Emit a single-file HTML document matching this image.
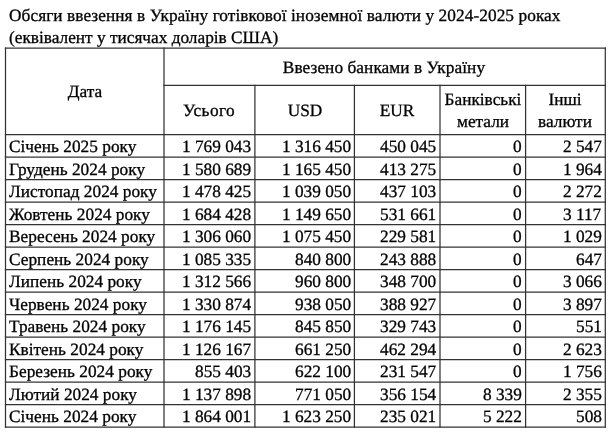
<!DOCTYPE html><html><head><meta charset="utf-8"><style>
html,body{margin:0;padding:0;background:#fff;}
body{width:610px;height:443px;position:relative;overflow:hidden;font-family:"Liberation Serif",serif;font-size:17.30px;color:#000;}
.t{position:absolute;white-space:pre;line-height:20px;height:20px;}
.r{text-align:right;}
.c{text-align:center;}
.t{will-change:transform;}
.t{-webkit-text-stroke:0.30px #000;}
body{text-rendering:geometricPrecision;}
svg{position:absolute;left:0;top:0;}
</style></head><body>
<div class="t " style="top:5.66px;left:8.80px;letter-spacing:0.070px;">Обсяги ввезення в Україну готівкової іноземної валюти у 2024-2025 роках</div>
<div class="t " style="top:27.66px;left:8.80px;">(еквівалент у тисячах доларів США)</div>
<svg width="610" height="443" viewBox="0 0 610 443" shape-rendering="auto"><line x1="5.50" y1="48.10" x2="605.30" y2="48.10" stroke="#333" stroke-width="1.25" stroke-linecap="square"/><line x1="164.00" y1="85.30" x2="605.30" y2="85.30" stroke="#333" stroke-width="1.25" stroke-linecap="square"/><line x1="5.50" y1="134.50" x2="605.30" y2="134.50" stroke="#333" stroke-width="1.25" stroke-linecap="square"/><line x1="5.50" y1="157.00" x2="605.30" y2="157.00" stroke="#333" stroke-width="1.25" stroke-linecap="square"/><line x1="5.50" y1="179.50" x2="605.30" y2="179.50" stroke="#333" stroke-width="1.25" stroke-linecap="square"/><line x1="5.50" y1="202.00" x2="605.30" y2="202.00" stroke="#333" stroke-width="1.25" stroke-linecap="square"/><line x1="5.50" y1="224.50" x2="605.30" y2="224.50" stroke="#333" stroke-width="1.25" stroke-linecap="square"/><line x1="5.50" y1="247.00" x2="605.30" y2="247.00" stroke="#333" stroke-width="1.25" stroke-linecap="square"/><line x1="5.50" y1="269.50" x2="605.30" y2="269.50" stroke="#333" stroke-width="1.25" stroke-linecap="square"/><line x1="5.50" y1="292.00" x2="605.30" y2="292.00" stroke="#333" stroke-width="1.25" stroke-linecap="square"/><line x1="5.50" y1="314.50" x2="605.30" y2="314.50" stroke="#333" stroke-width="1.25" stroke-linecap="square"/><line x1="5.50" y1="337.00" x2="605.30" y2="337.00" stroke="#333" stroke-width="1.25" stroke-linecap="square"/><line x1="5.50" y1="359.50" x2="605.30" y2="359.50" stroke="#333" stroke-width="1.25" stroke-linecap="square"/><line x1="5.50" y1="382.00" x2="605.30" y2="382.00" stroke="#333" stroke-width="1.25" stroke-linecap="square"/><line x1="5.50" y1="404.50" x2="605.30" y2="404.50" stroke="#333" stroke-width="1.25" stroke-linecap="square"/><line x1="5.50" y1="427.00" x2="605.30" y2="427.00" stroke="#333" stroke-width="1.25" stroke-linecap="square"/><line x1="5.50" y1="48.10" x2="5.50" y2="427.00" stroke="#333" stroke-width="1.25" stroke-linecap="square"/><line x1="605.30" y1="48.10" x2="605.30" y2="427.00" stroke="#333" stroke-width="1.25" stroke-linecap="square"/><line x1="164.00" y1="48.10" x2="164.00" y2="427.00" stroke="#333" stroke-width="1.25" stroke-linecap="square"/><line x1="254.90" y1="85.30" x2="254.90" y2="427.00" stroke="#333" stroke-width="1.25" stroke-linecap="square"/><line x1="354.40" y1="85.30" x2="354.40" y2="427.00" stroke="#333" stroke-width="1.25" stroke-linecap="square"/><line x1="440.00" y1="85.30" x2="440.00" y2="427.00" stroke="#333" stroke-width="1.25" stroke-linecap="square"/><line x1="525.60" y1="85.30" x2="525.60" y2="427.00" stroke="#333" stroke-width="1.25" stroke-linecap="square"/></svg>
<div class="t c" style="top:81.96px;left:-65.25px;width:300.00px;">Дата</div>
<div class="t c" style="top:58.06px;left:234.15px;width:300.00px;letter-spacing:0.060px;">Ввезено банками в Україну</div>
<div class="t c" style="top:100.86px;left:58.65px;width:300.00px;letter-spacing:0.400px;">Усього</div>
<div class="t c" style="top:100.86px;left:154.65px;width:300.00px;">USD</div>
<div class="t c" style="top:100.86px;left:247.20px;width:300.00px;">EUR</div>
<div class="t c" style="top:89.86px;left:332.80px;width:300.00px;">Банківські</div>
<div class="t c" style="top:112.06px;left:332.80px;width:300.00px;">метали</div>
<div class="t c" style="top:89.86px;left:415.45px;width:300.00px;">Інші</div>
<div class="t c" style="top:112.06px;left:415.45px;width:300.00px;">валюти</div>
<div class="t " style="top:137.06px;left:8.50px;letter-spacing:0.020px;">Січень 2025 року</div>
<div class="t r" style="top:137.06px;right:358.80px;">1 769 043</div>
<div class="t r" style="top:137.06px;right:259.20px;">1 316 450</div>
<div class="t r" style="top:137.06px;right:173.60px;">450 045</div>
<div class="t r" style="top:137.06px;right:88.00px;">0</div>
<div class="t r" style="top:137.06px;right:8.30px;">2 547</div>
<div class="t " style="top:159.56px;left:8.50px;letter-spacing:0.020px;">Грудень 2024 року</div>
<div class="t r" style="top:159.56px;right:358.80px;">1 580 689</div>
<div class="t r" style="top:159.56px;right:259.20px;">1 165 450</div>
<div class="t r" style="top:159.56px;right:173.60px;">413 275</div>
<div class="t r" style="top:159.56px;right:88.00px;">0</div>
<div class="t r" style="top:159.56px;right:8.30px;">1 964</div>
<div class="t " style="top:182.06px;left:8.50px;letter-spacing:0.020px;">Листопад 2024 року</div>
<div class="t r" style="top:182.06px;right:358.80px;">1 478 425</div>
<div class="t r" style="top:182.06px;right:259.20px;">1 039 050</div>
<div class="t r" style="top:182.06px;right:173.60px;">437 103</div>
<div class="t r" style="top:182.06px;right:88.00px;">0</div>
<div class="t r" style="top:182.06px;right:8.30px;">2 272</div>
<div class="t " style="top:204.56px;left:8.50px;letter-spacing:0.020px;">Жовтень 2024 року</div>
<div class="t r" style="top:204.56px;right:358.80px;">1 684 428</div>
<div class="t r" style="top:204.56px;right:259.20px;">1 149 650</div>
<div class="t r" style="top:204.56px;right:173.60px;">531 661</div>
<div class="t r" style="top:204.56px;right:88.00px;">0</div>
<div class="t r" style="top:204.56px;right:8.30px;">3 117</div>
<div class="t " style="top:227.06px;left:8.50px;letter-spacing:0.020px;">Вересень 2024 року</div>
<div class="t r" style="top:227.06px;right:358.80px;">1 306 060</div>
<div class="t r" style="top:227.06px;right:259.20px;">1 075 450</div>
<div class="t r" style="top:227.06px;right:173.60px;">229 581</div>
<div class="t r" style="top:227.06px;right:88.00px;">0</div>
<div class="t r" style="top:227.06px;right:8.30px;">1 029</div>
<div class="t " style="top:249.56px;left:8.50px;letter-spacing:0.020px;">Серпень 2024 року</div>
<div class="t r" style="top:249.56px;right:358.80px;">1 085 335</div>
<div class="t r" style="top:249.56px;right:259.20px;">840 800</div>
<div class="t r" style="top:249.56px;right:173.60px;">243 888</div>
<div class="t r" style="top:249.56px;right:88.00px;">0</div>
<div class="t r" style="top:249.56px;right:8.30px;">647</div>
<div class="t " style="top:272.06px;left:8.50px;letter-spacing:0.020px;">Липень 2024 року</div>
<div class="t r" style="top:272.06px;right:358.80px;">1 312 566</div>
<div class="t r" style="top:272.06px;right:259.20px;">960 800</div>
<div class="t r" style="top:272.06px;right:173.60px;">348 700</div>
<div class="t r" style="top:272.06px;right:88.00px;">0</div>
<div class="t r" style="top:272.06px;right:8.30px;">3 066</div>
<div class="t " style="top:294.56px;left:8.50px;letter-spacing:0.020px;">Червень 2024 року</div>
<div class="t r" style="top:294.56px;right:358.80px;">1 330 874</div>
<div class="t r" style="top:294.56px;right:259.20px;">938 050</div>
<div class="t r" style="top:294.56px;right:173.60px;">388 927</div>
<div class="t r" style="top:294.56px;right:88.00px;">0</div>
<div class="t r" style="top:294.56px;right:8.30px;">3 897</div>
<div class="t " style="top:317.06px;left:8.50px;letter-spacing:0.020px;">Травень 2024 року</div>
<div class="t r" style="top:317.06px;right:358.80px;">1 176 145</div>
<div class="t r" style="top:317.06px;right:259.20px;">845 850</div>
<div class="t r" style="top:317.06px;right:173.60px;">329 743</div>
<div class="t r" style="top:317.06px;right:88.00px;">0</div>
<div class="t r" style="top:317.06px;right:8.30px;">551</div>
<div class="t " style="top:339.56px;left:8.50px;letter-spacing:0.020px;">Квітень 2024 року</div>
<div class="t r" style="top:339.56px;right:358.80px;">1 126 167</div>
<div class="t r" style="top:339.56px;right:259.20px;">661 250</div>
<div class="t r" style="top:339.56px;right:173.60px;">462 294</div>
<div class="t r" style="top:339.56px;right:88.00px;">0</div>
<div class="t r" style="top:339.56px;right:8.30px;">2 623</div>
<div class="t " style="top:362.06px;left:8.50px;letter-spacing:0.020px;">Березень 2024 року</div>
<div class="t r" style="top:362.06px;right:358.80px;">855 403</div>
<div class="t r" style="top:362.06px;right:259.20px;">622 100</div>
<div class="t r" style="top:362.06px;right:173.60px;">231 547</div>
<div class="t r" style="top:362.06px;right:88.00px;">0</div>
<div class="t r" style="top:362.06px;right:8.30px;">1 756</div>
<div class="t " style="top:384.56px;left:8.50px;letter-spacing:0.020px;">Лютий 2024 року</div>
<div class="t r" style="top:384.56px;right:358.80px;">1 137 898</div>
<div class="t r" style="top:384.56px;right:259.20px;">771 050</div>
<div class="t r" style="top:384.56px;right:173.60px;">356 154</div>
<div class="t r" style="top:384.56px;right:88.00px;">8 339</div>
<div class="t r" style="top:384.56px;right:8.30px;">2 355</div>
<div class="t " style="top:407.06px;left:8.50px;letter-spacing:0.020px;">Січень 2024 року</div>
<div class="t r" style="top:407.06px;right:358.80px;">1 864 001</div>
<div class="t r" style="top:407.06px;right:259.20px;">1 623 250</div>
<div class="t r" style="top:407.06px;right:173.60px;">235 021</div>
<div class="t r" style="top:407.06px;right:88.00px;">5 222</div>
<div class="t r" style="top:407.06px;right:8.30px;">508</div>
</body></html>
